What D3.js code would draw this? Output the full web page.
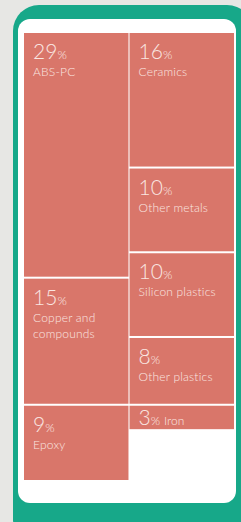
<!DOCTYPE html>
<html>
<head>
<meta charset="utf-8">
<script src="https://cdn.jsdelivr.net/npm/d3@7"></script>
<style>
  html, body { margin: 0; padding: 0; background: #e7e7e4; }
  svg { display: block; }
  text { font-family: "Lato", "Open Sans", sans-serif; font-weight: 300; fill: #fae6e1; }
</style>
</head>
<body>
<div id="container"></div>
<script>
// left column, top to bottom
const leftCategories = ['ABS-PC', 'Copper and compounds', 'Epoxy'];
const leftValues = [29, 15, 9];
// right column, top to bottom
const rightCategories = ['Ceramics', 'Other metals', 'Silicon plastics', 'Other plastics', 'Iron'];
const rightValues = [16, 10, 10, 8, 3];

const width = 241;
const height = 522;
const cellFill = '#d9766a';
const frameFill = '#17a889';

const svg = d3.select('#container').append('svg')
    .attr('width', width)
    .attr('height', height);

// phone frame
svg.append('rect')
    .attr('x', 13).attr('y', 5)
    .attr('width', 240).attr('height', 540)
    .attr('rx', 26)
    .attr('fill', frameFill);
svg.append('rect')
    .attr('x', 18).attr('y', 19)
    .attr('width', 218).attr('height', 484)
    .attr('rx', 12)
    .attr('fill', '#ffffff');

const x = d3.scaleBand()
    .domain(['left', 'right'])
    .range([24, 234])
    .paddingInner(0.01);

const y = d3.scaleLinear()
    .domain([0, 53])
    .range([33, 482]);

function stack(cats, vals, col) {
    let acc = 0;
    return cats.map((c, i) => {
        const d = { name: c, value: vals[i], col: col, y0: acc, y1: acc + vals[i] };
        acc += vals[i];
        return d;
    });
}

const cells = stack(leftCategories, leftValues, 'left')
    .concat(stack(rightCategories, rightValues, 'right'));

const g = svg.append('g')
    .selectAll('g')
    .data(cells)
    .enter()
    .append('g')
    .attr('transform', d => `translate(${x(d.col)},${y(d.y0)})`);

g.append('rect')
    .attr('width', x.bandwidth())
    .attr('height', d => y(d.y1) - y(d.y0) - 2)
    .attr('fill', cellFill);

g.each(function(d) {
    const cell = d3.select(this);
    const h = y(d.y1) - y(d.y0);
    const small = h < 40;
    const pct = cell.append('text')
        .attr('x', 9)
        .attr('y', small ? 19 : 26);
    pct.append('tspan').attr('font-size', 21).text(d.value);
    pct.append('tspan').attr('font-size', 12).text('%');
    if (small) {
        pct.append('tspan').attr('font-size', 12).attr('dx', 4).text(d.name);
        return;
    }
    // simple word wrap for the name
    const maxW = x.bandwidth() - 16;
    const label = cell.append('text')
        .attr('x', 9)
        .attr('y', 43)
        .attr('font-size', 12)
        .attr('letter-spacing', 0.2);
    let line = [];
    let ts = label.append('tspan').attr('x', 9).attr('dy', 0);
    d.name.split(' ').forEach(w => {
        line.push(w);
        ts.text(line.join(' '));
        if (ts.node().getComputedTextLength() > maxW && line.length > 1) {
            line.pop();
            ts.text(line.join(' '));
            line = [w];
            ts = label.append('tspan').attr('x', 9).attr('dy', 16).text(w);
        }
    });
});
</script>
</body>
</html>
